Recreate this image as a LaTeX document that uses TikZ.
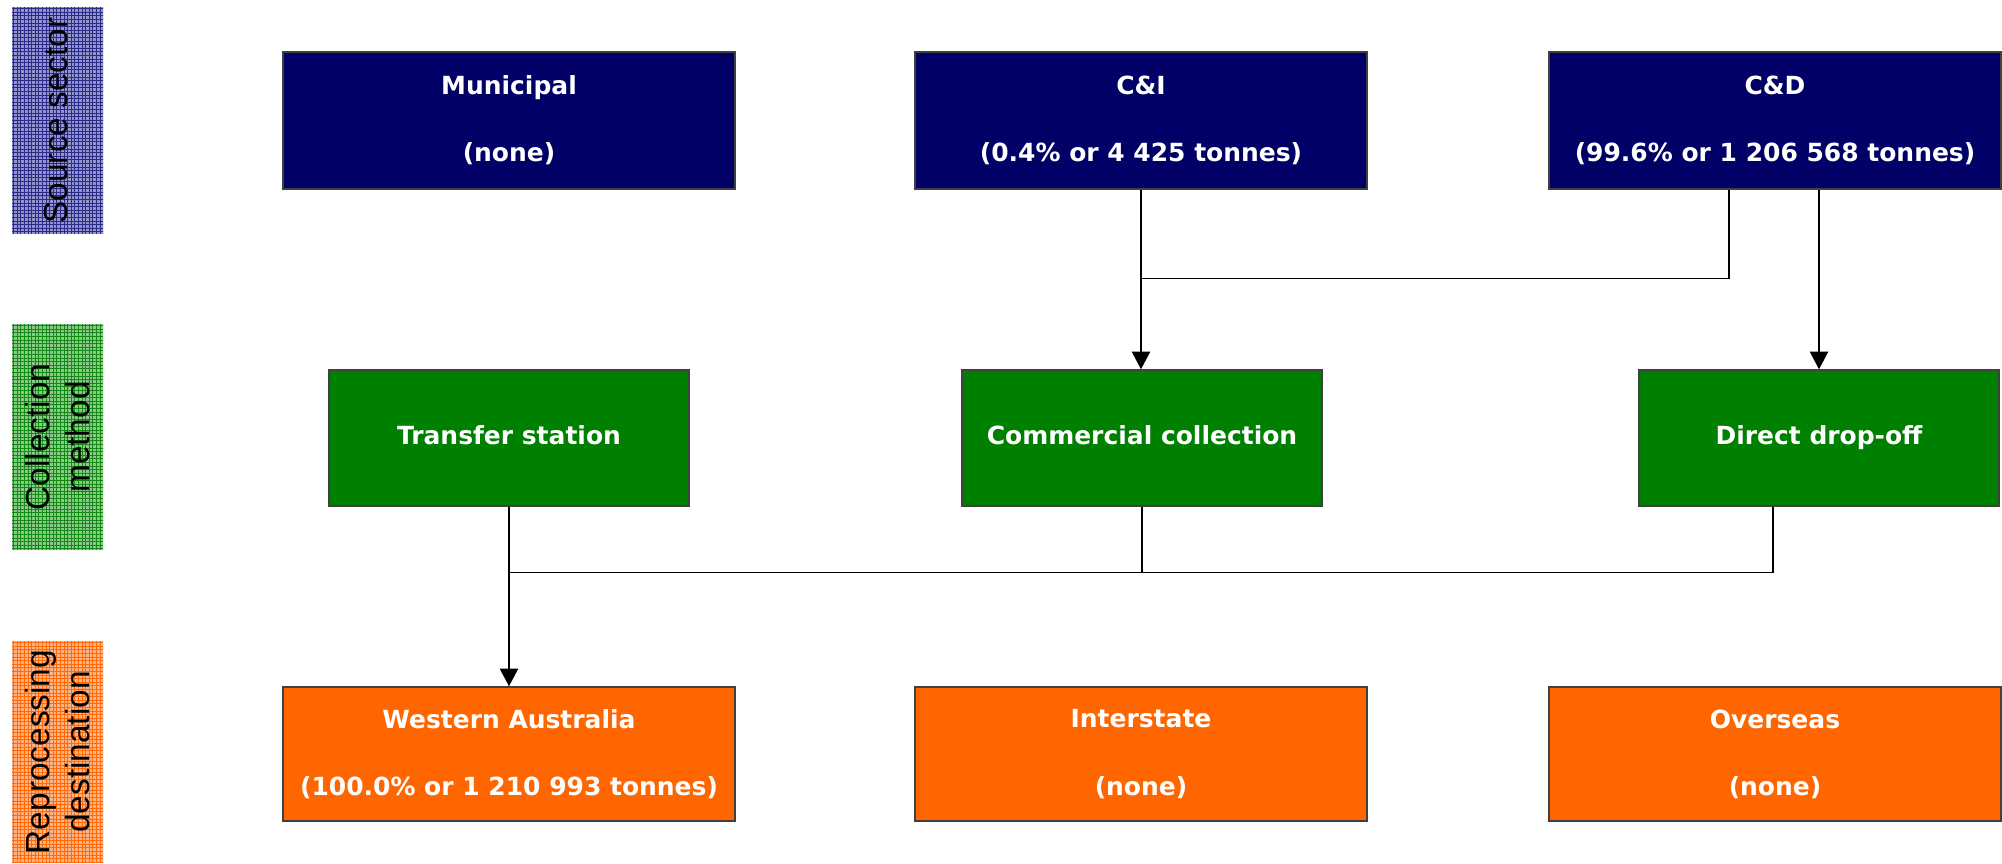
\documentclass[tikz,border=0pt]{standalone}
\usepackage{fontspec}
\setmainfont{DejaVu Sans}
\newfontfamily\arialfont{Liberation Sans}
\usetikzlibrary{arrows.meta,calc}
\definecolor{srcblue}{HTML}{000066}
\definecolor{colgreen}{HTML}{008000}
\definecolor{dstorange}{HTML}{FF6600}
\definecolor{bluefill}{HTML}{9494CC}
\definecolor{blueline}{HTML}{2B2B8A}
\definecolor{greenfill}{HTML}{8CC88C}
\definecolor{greenline}{HTML}{148A14}
\definecolor{orangefill}{HTML}{FFB486}
\definecolor{orangeline}{HTML}{FF6A0A}
\newcommand\hatchpanel[6]{% x1,y1,x2,y2,fill,line
  \fill[#5] (#1,#2) rectangle (#3,#4);
  \begin{scope}
    \clip (#1,#2) rectangle (#3,#4);
    \foreach \k in {0,...,66} {
      \draw[#6, line width=0.2pt] ({#1+1.5+3.6*\k},#2) -- ({#1+1.5+3.6*\k},#4);
      \draw[#6, line width=0.2pt] (#1,{#2+1.5+3.6*\k}) -- (#3,{#2+1.5+3.6*\k});
    }
  \end{scope}}
\begin{document}
\begin{tikzpicture}[x=0.01cm,y=-0.01cm,
  box/.style={draw=black!75, line width=0.4pt, text=white, inner sep=0pt, align=center,
    font=\bfseries\fontsize{7.1}{8.6}\selectfont},
  srcbox/.style={box, fill=srcblue, minimum width=4.52cm, minimum height=1.37cm},
  colbox/.style={box, fill=colgreen, minimum width=3.60cm, minimum height=1.36cm,
    text height=5.3pt, text depth=1.4pt},
  dstbox/.style={box, fill=dstorange, minimum width=4.52cm, minimum height=1.34cm},
  sidelabel/.style={rotate=90, align=center, inner sep=0pt, text=black,
    font=\arialfont\fontsize{9.5}{11.5}\selectfont},
  conn/.style={draw=black, line width=0.4pt},
  arr/.style={conn, -{Triangle[width=5.2pt,length=5pt]}}]
\useasboundingbox (0,0) rectangle (2002,864);

% side panels
\hatchpanel{12}{7}{103}{234}{bluefill}{blueline}
\hatchpanel{12}{324}{103}{550}{greenfill}{greenline}
\hatchpanel{12}{641}{103}{863}{orangefill}{orangeline}
\node[sidelabel] (lsrc) at (56,120.5) {Source sector};
\node[sidelabel] (lcol) at (57.5,437) {Collection\\method};
\node[sidelabel] (ldst) at (57.5,752) {Reprocessing\\destination};

% source sector
\node[srcbox] (mun) at (509,120.5) {Municipal\\[10.5pt](none)};
\node[srcbox] (ci)  at (1141,120.5) {C\&I\\[10.5pt](0.4\% or 4 425 tonnes)};
\node[srcbox] (cd)  at (1775,120.5) {C\&D\\[10.5pt](99.6\% or 1 206 568 tonnes)};

% collection method
\node[colbox] (ts) at (509,438) {Transfer station};
\node[colbox] (cc) at (1142,438) {Commercial collection};
\node[colbox] (dd) at (1819,438) {Direct drop-off};

% reprocessing destination
\node[dstbox] (wa) at (509,754) {Western Australia\\[10.5pt](100.0\% or 1 210 993 tonnes)};
\node[dstbox] (is) at (1141,754) {Interstate\\[10.5pt](none)};
\node[dstbox] (os) at (1775,754) {Overseas\\[10.5pt](none)};

% connectors: source -> collection
\coordinate (j1) at ($(ci.south)+(0,89)$);
\draw[arr] (ci.south) -- (ci.south |- cc.north);
\draw[conn] ($(cd.south)+(-46,0)$) |- (j1);
\draw[arr] (cd.south -| dd.north) -- (dd.north);

% connectors: collection -> destination
\coordinate (j2) at ($(ts.south)+(0,66)$);
\draw[arr] (ts.south) -- (ts.south |- wa.north);
\draw[conn] (cc.south) |- (j2);
\draw[conn] ($(dd.south)+(-46,0)$) |- (j2);
\end{tikzpicture}
\end{document}
